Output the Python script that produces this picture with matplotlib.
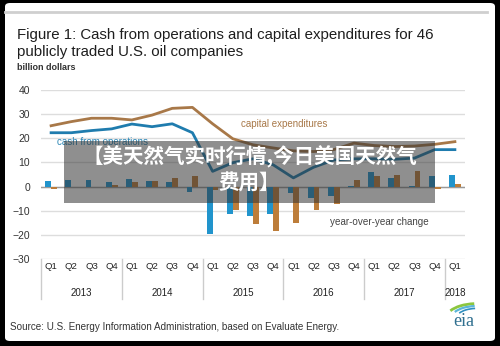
import matplotlib
matplotlib.use('Agg')
import matplotlib.pyplot as plt
import numpy as np
from matplotlib.patches import Rectangle, FancyBboxPatch, Arc

plt.rcParams['font.family'] = ['Liberation Sans', 'DejaVu Sans']

# quarterly values, billion dollars (Q1 2013 .. Q1 2018)
quarters = ['Q1', 'Q2', 'Q3', 'Q4'] * 5 + ['Q1']
years = ['2013', '2014', '2015', '2016', '2017', '2018']
cash_ops = [22.3, 22.3, 23.2, 23.9, 25.9, 24.8, 26.0, 22.3,
            6.3, 9.9, 11.5, 9.0, 3.6, 8.0, 11.0, 11.5,
            11.5, 11.3, 11.8, 15.3, 15.3]
capex = [25.2, 26.9, 28.3, 28.3, 27.6, 29.6, 32.4, 32.8,
         26.0, 19.8, 17.3, 16.0, 14.8, 14.5, 15.3, 18.0,
         17.0, 16.6, 16.8, 17.5, 18.6]
cash_yoy = [2.2, 2.6, 2.6, 2.0, 3.3, 2.2, 2.0, -2.2,
            -19.8, -11.5, -12.3, -11.5, -2.5, -4.6, -4.0, 0.2,
            6.0, 3.4, 0.4, 4.5, 4.7]
capex_yoy = [-1.2, -0.3, 0.0, 0.5, 2.0, 2.3, 3.6, 4.3,
             -1.5, -9.5, -15.6, -18.5, -14.9, -9.9, -7.4, 2.9,
             4.4, 4.7, 6.6, -0.8, 1.2]
yticks = [40, 30, 20, 10, 0, -10, -20, -30]

W, H = 500, 346


def fx(px):
    return px / W


def fy(py):
    return 1 - py / H


fig = plt.figure(figsize=(W / 100, H / 100), dpi=100, facecolor='black')

# white card with a thin grey rule near the top
card = FancyBboxPatch((fx(5), fy(341)), fx(490), 338 / H,
                      boxstyle='round,pad=0,rounding_size=0.01',
                      transform=fig.transFigure, facecolor='white',
                      edgecolor='none', zorder=-5)
fig.patches.append(card)
fig.add_artist(plt.Line2D([fx(5), fx(487)], [fy(12), fy(12)],
                          transform=fig.transFigure, color='#cfcfcf', lw=2))

fig.text(fx(17), fy(35), 'Figure 1: Cash from operations and capital expenditures for 46',
         fontsize=10.8, color='#1e1e1e', va='center', ha='left')
fig.text(fx(17), fy(52), 'publicly traded U.S. oil companies',
         fontsize=10.8, color='#1e1e1e', va='center', ha='left')
fig.text(fx(17), fy(68), 'billion dollars', fontsize=6.5, color='#333333',
         fontweight='bold', va='center', ha='left')

ax = fig.add_axes([fx(41), fy(259), fx(465) - fx(41), (259 - 90) / H])
ax.set_facecolor('none')
x = np.arange(len(quarters)) + 0.5
bw = 0.29

for v in yticks:
    ax.axhline(v, color='#dddddd', lw=1, zorder=0)
ax.axhline(0, color='#9a9a9a', lw=1, zorder=1)

ax.bar(x - bw / 2, cash_yoy, width=bw, color='#2194cc', zorder=2)
ax.bar(x + bw / 2, capex_yoy, width=bw, color='#bd7d3a', zorder=2)
ax.plot(x, capex, color='#a87848', lw=2, zorder=3)
ax.plot(x, cash_ops, color='#1f7cae', lw=2, zorder=3)

ax.text(0.8, 18.5, 'cash from operations', color='#2a86b5', fontsize=7, va='center')
ax.text(9.9, 26.0, 'capital expenditures', color='#a87848', fontsize=7, va='center')
ax.text(14.3, -14.6, 'year-over-year change', color='#444444', fontsize=7.1, va='center')

ax.set_xlim(0, len(quarters))
ax.set_ylim(-30, 40)
ax.set_xticks([])
ax.set_yticks(yticks)
ax.tick_params(axis='y', length=0, pad=8, labelsize=7.5, labelcolor='#333333')
for s in ax.spines.values():
    s.set_visible(False)

# category axis: quarters and years
for xi, q in zip(x, quarters):
    ax.text(xi, -33.3, q, ha='center', va='center', fontsize=6.8,
            color='#222222', clip_on=False)
for k, yr in enumerate(years):
    span = 4 if k < 5 else 1
    ax.text(4 * k + span / 2, -44.0, yr, ha='center', va='center',
            fontsize=7, color='#222222', clip_on=False)
    ax.plot([4 * k, 4 * k], [-30, -46.5], color='#cccccc', lw=1, clip_on=False)

fig.text(fx(10), fy(327), 'Source: U.S. Energy Information Administration, based on Evaluate Energy.',
         fontsize=7.1, color='#333333', va='center', ha='left')

# eia mark
fig.text(fx(464), fy(322), 'eia', family='Liberation Serif', fontsize=13,
         color='#2f6f8f', ha='center', va='center')
logo = fig.add_axes([fx(448), fy(318), fx(34), 16 / H])
logo.set_axis_off()
logo.set_xlim(0, 1)
logo.set_ylim(0, 1)
for r, c, lw in [(0.9, '#8cc63f', 2), (0.75, '#5bb6d8', 1.6), (0.6, '#2f8fc0', 1.2)]:
    logo.add_patch(Arc((0.85, 0.0), 2 * r, 2 * r, theta1=95, theta2=150, color=c, lw=lw))

# grey banner with caption
fig.patches.append(Rectangle((fx(64), fy(203)), fx(435) - fx(64), (203 - 141) / H,
                             transform=fig.transFigure, facecolor='#333333',
                             alpha=0.55, edgecolor='none', zorder=5))
cjk = ['Noto Sans CJK SC', 'DejaVu Sans']
fig.text(fx(249.5), fy(157), '【美天然气实时行情,今日美国天然气', family=cjk,
         fontsize=14.8, fontweight='bold', color='white', ha='center', va='center', zorder=6)
fig.text(fx(249.5), fy(183), '费用】', family=cjk,
         fontsize=14.8, fontweight='bold', color='white', ha='center', va='center', zorder=6)

fig.savefig('out.png', dpi=100, facecolor='black')
